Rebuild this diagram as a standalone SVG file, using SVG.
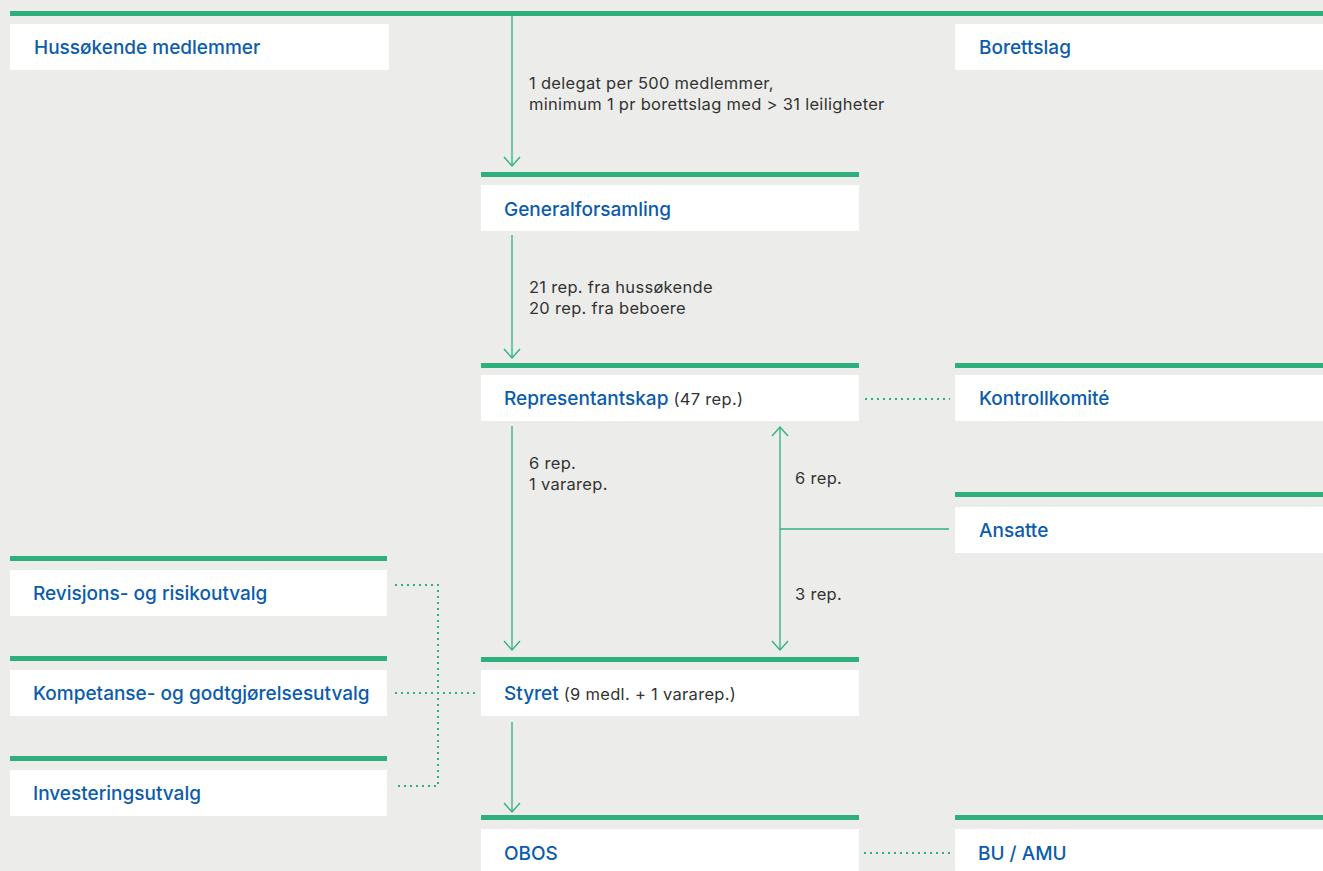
<svg xmlns="http://www.w3.org/2000/svg" width="1323" height="871" viewBox="0 0 1323 871">
<style>
.bar{fill:#2eb07e}
.box{fill:#ffffff}
.t{font-family:"Inter","Liberation Sans",sans-serif;font-size:19px;font-weight:500;fill:#0b5cab}
.s{font-family:"Inter","Liberation Sans",sans-serif;font-size:16.5px;font-weight:400;letter-spacing:0.3px;fill:#333333}
.ln{stroke:#2eb07e;stroke-width:1.3;fill:none}
.dot{stroke:#2eb07e;stroke-width:2;fill:none;stroke-dasharray:2 4}
</style>
<defs>
<marker id="arr" markerUnits="userSpaceOnUse" markerWidth="20" markerHeight="20" refX="10" refY="10" orient="auto" viewBox="0 0 20 20"><path d="M1,2 L10,10 L1,18" fill="none" stroke="#2eb07e" stroke-width="1.3"/></marker>
</defs>
<rect width="1323" height="871" fill="#ecedea"/>
<rect class="bar" x="10" y="11" width="1313" height="5"/>
<g id="connectors">
<line class="ln" x1="512" y1="16" x2="512" y2="166" marker-end="url(#arr)"/>
<line class="ln" x1="512" y1="235" x2="512" y2="358" marker-end="url(#arr)"/>
<line class="ln" x1="512" y1="426" x2="512" y2="650" marker-end="url(#arr)"/>
<line class="ln" x1="780" y1="529" x2="780" y2="427" marker-end="url(#arr)"/>
<line class="ln" x1="780" y1="529" x2="780" y2="650" marker-end="url(#arr)"/>
<line class="ln" x1="780" y1="529" x2="949" y2="529"/>
<line class="ln" x1="512" y1="722" x2="512" y2="812" marker-end="url(#arr)"/>
<path class="dot" d="M865,399 H950"/>
<path class="dot" d="M864,853 H950"/>
<path class="dot" d="M395,585 H438 V786 H395"/>
<path class="dot" d="M395,693 H476"/>
<text class="s" x="529" y="89">1 delegat per 500 medlemmer,</text>
<text class="s" x="529" y="110">minimum 1 pr borettslag med &gt; 31 leiligheter</text>
<text class="s" x="529" y="293">21 rep. fra hussøkende</text>
<text class="s" x="529" y="314">20 rep. fra beboere</text>
<text class="s" x="529" y="469">6 rep.</text>
<text class="s" x="529" y="490">1 vararep.</text>
<text class="s" x="795" y="484">6 rep.</text>
<text class="s" x="795" y="600">3 rep.</text>
</g>
<g id="hussokende"><rect class="box" x="10" y="24" width="379" height="46"/><text class="t" x="34" y="54">Hussøkende medlemmer</text></g>
<g id="borettslag"><rect class="box" x="955" y="24" width="368" height="46"/><text class="t" x="979" y="54">Borettslag</text></g>
<g id="generalforsamling"><rect class="bar" x="481" y="172" width="378" height="5"/><rect class="box" x="481" y="185" width="378" height="46"/><text class="t" x="504" y="216">Generalforsamling</text></g>
<g id="representantskap"><rect class="bar" x="481" y="363" width="378" height="5"/><rect class="box" x="481" y="375" width="378" height="46"/><text class="t" x="504" y="405">Representantskap <tspan class="s">(47 rep.)</tspan></text></g>
<g id="kontrollkomite"><rect class="bar" x="955" y="363" width="368" height="5"/><rect class="box" x="955" y="375" width="368" height="46"/><text class="t" x="979" y="405">Kontrollkomité</text></g>
<g id="ansatte"><rect class="bar" x="955" y="492" width="368" height="5"/><rect class="box" x="955" y="507" width="368" height="46"/><text class="t" x="979" y="537">Ansatte</text></g>
<g id="revisjon"><rect class="bar" x="10" y="556" width="377" height="5"/><rect class="box" x="10" y="570" width="377" height="46"/><text class="t" x="33" y="600">Revisjons- og risikoutvalg</text></g>
<g id="kompetanse"><rect class="bar" x="10" y="656" width="377" height="5"/><rect class="box" x="10" y="670" width="377" height="46"/><text class="t" x="33" y="700">Kompetanse- og godtgjørelsesutvalg</text></g>
<g id="investering"><rect class="bar" x="10" y="756" width="377" height="5"/><rect class="box" x="10" y="770" width="377" height="46"/><text class="t" x="33" y="800">Investeringsutvalg</text></g>
<g id="styret"><rect class="bar" x="481" y="657" width="378" height="5"/><rect class="box" x="481" y="670" width="378" height="46"/><text class="t" x="504" y="700">Styret <tspan class="s">(9 medl. + 1 vararep.)</tspan></text></g>
<g id="obos"><rect class="bar" x="481" y="815" width="378" height="5"/><rect class="box" x="481" y="829" width="378" height="42"/><text class="t" x="504" y="860">OBOS</text></g>
<g id="buamu"><rect class="bar" x="955" y="815" width="368" height="5"/><rect class="box" x="955" y="829" width="368" height="42"/><text class="t" x="978" y="860">BU / AMU</text></g>
</svg>
